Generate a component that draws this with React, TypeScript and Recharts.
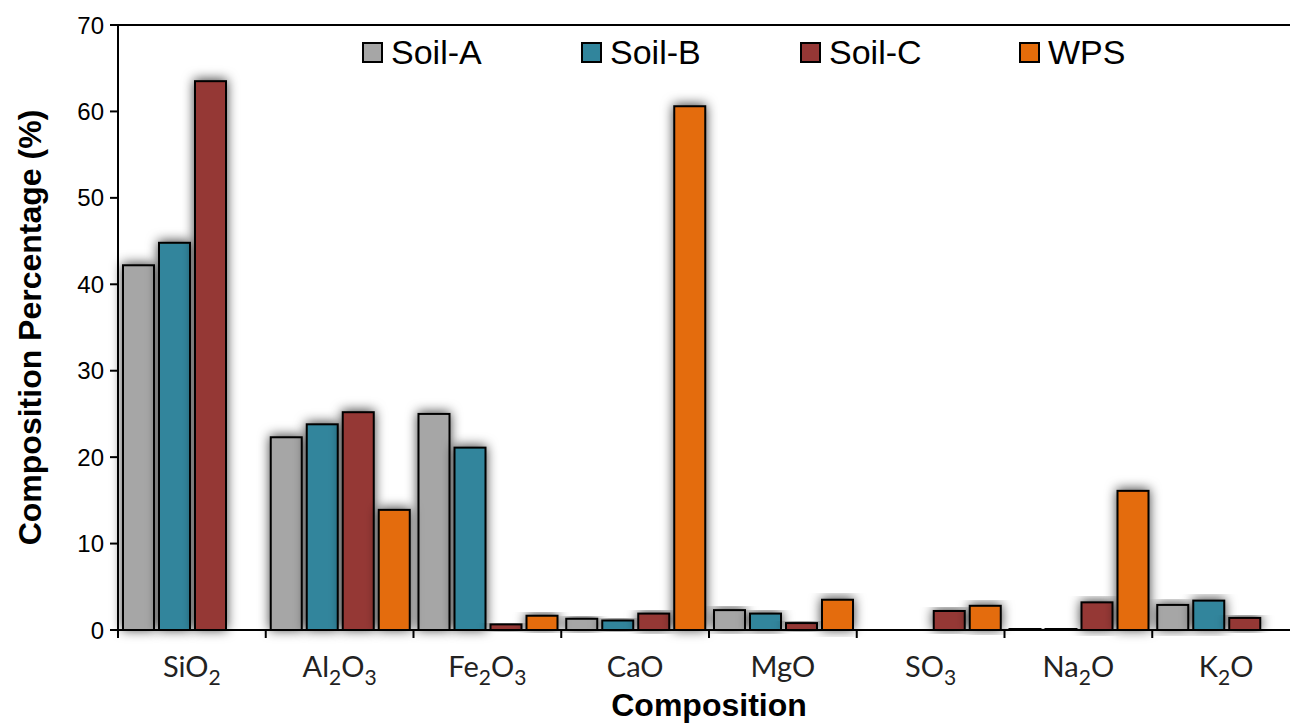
import React from 'react';
import { BarChart, Bar, XAxis, YAxis, ReferenceLine } from 'recharts';

const categories = ['SiO2', 'Al2O3', 'Fe2O3', 'CaO', 'MgO', 'SO3', 'Na2O', 'K2O'];
const soilA = [42.2, 22.3, 25.0, 1.3, 2.3, 0, 0.15, 2.9];
const soilB = [44.8, 23.8, 21.1, 1.1, 1.9, 0, 0.15, 3.4];
const soilC = [63.5, 25.2, 0.65, 1.9, 0.8, 2.2, 3.2, 1.4];
const wps = [0, 13.9, 1.65, 60.6, 3.5, 2.8, 16.1, 0];
const yTicks = [0, 10, 20, 30, 40, 50, 60, 70];

const seriesNames = ['Soil-A', 'Soil-B', 'Soil-C', 'WPS'];
const seriesKeys = ['a', 'b', 'c', 'w'];
const seriesColors = ['#A6A6A6', '#31859C', '#953735', '#E46C0A'];

const data = categories.map((name, i) => ({
  name,
  a: soilA[i],
  b: soilB[i],
  c: soilC[i],
  w: wps[i],
}));

const ShadowBar = (props: any) => {
  const { x, y, width, height, fill, value } = props;
  const v = Array.isArray(value) ? value[1] - value[0] : value;
  if (!v || v <= 0) return null;
  const h = Math.max(height, 0.5);
  return (
    <rect
      x={x}
      y={y + height - h}
      width={width}
      height={h}
      fill={fill}
      stroke="#000"
      strokeWidth={2}
      filter="url(#barShadow)"
    />
  );
};

const CategoryTick = (props: any) => {
  const { x, y, payload } = props;
  const label: string = String(payload.value);
  const parts = label.match(/[A-Za-z]+|\d+/g) || [label];
  const off = payload.offset || 0;
  return (
    <g>
      <line x1={x - off} x2={x - off} y1={y - 8} y2={y} stroke="#000" strokeWidth={2} />
      <text
        x={x}
        y={y + 39}
        textAnchor="middle"
        fontFamily="Lato, 'Open Sans', sans-serif"
        fontSize={29}
        fill="#222"
      >
        {parts.map((p, i) =>
          /^\d+$/.test(p) ? (
            <tspan key={i} fontSize={21} dy={8}>
              {p}
            </tspan>
          ) : (
            <tspan key={i} dy={i > 0 && /^\d+$/.test(parts[i - 1]) ? -8 : 0}>
              {p}
            </tspan>
          )
        )}
      </text>
    </g>
  );
};

const LegendBox = () => (
  <div
    style={{
      position: 'absolute',
      top: 32,
      left: 362,
      display: 'flex',
      fontFamily: "'Liberation Sans', Arial, sans-serif",
    }}
  >
    {seriesNames.map((n, i) => (
      <div key={n} style={{ display: 'flex', alignItems: 'center', width: 219 }}>
        <span
          style={{
            display: 'inline-block',
            width: 17,
            height: 17,
            background: seriesColors[i],
            border: '2px solid #000',
            marginRight: 8,
          }}
        />
        <span style={{ fontSize: 34, color: '#000', lineHeight: '40px' }}>{n}</span>
      </div>
    ))}
  </div>
);

export default function App() {
  return (
    <div
      style={{
        position: 'absolute',
        left: 0,
        top: 0,
        width: 1290,
        height: 725,
        overflow: 'hidden',
        background: '#fff',
      }}
    >
      <BarChart
        width={1310}
        height={725}
        data={data}
        margin={{ top: 25, right: 10, bottom: 0, left: 0 }}
        barCategoryGap={5}
        barGap={5}
      >
        <defs>
          <filter id="barShadow" x="-50%" y="-20%" width="200%" height="140%">
            <feDropShadow dx={0} dy={-1} stdDeviation={6} floodColor="#000" floodOpacity={0.75} />
          </filter>
        </defs>
        <XAxis
          dataKey="name"
          height={95}
          tickLine={false}
          tickSize={6}
          tickMargin={2}
          axisLine={{ stroke: '#000', strokeWidth: 2 }}
          tick={<CategoryTick />}
          interval={0}
          label={(p: any) => {
            const vb = p.viewBox;
            return (
              <text
                x={vb.x + vb.width / 2}
                y={vb.y + 86}
                textAnchor="middle"
                fontFamily="'Liberation Sans', Arial, sans-serif"
                fontWeight="bold"
                fontSize={32}
                fill="#000"
              >
                Composition
              </text>
            );
          }}
        />
        <YAxis
          width={118}
          domain={[0, 70]}
          ticks={yTicks}
          interval={0}
          tickSize={8}
          tickMargin={6}
          axisLine={{ stroke: '#000', strokeWidth: 2 }}
          tickLine={{ stroke: '#000', strokeWidth: 2 }}
          tick={{ fill: '#000', fontSize: 24, fontFamily: "'Liberation Sans', Arial, sans-serif" }}
          label={(p: any) => {
            const vb = p.viewBox;
            const cx = 41;
            const cy = vb.y + vb.height / 2;
            return (
              <text
                x={cx}
                y={cy}
                transform={`rotate(-90, ${cx}, ${cy})`}
                textAnchor="middle"
                fontFamily="'Liberation Sans', Arial, sans-serif"
                fontWeight="bold"
                fontSize={32}
                fill="#000"
              >
                Composition Percentage (%)
              </text>
            );
          }}
        />
        <ReferenceLine y={70} stroke="#000" strokeWidth={2} />
        {seriesKeys.map((k, i) => (
          <Bar
            key={k}
            dataKey={k}
            name={seriesNames[i]}
            fill={seriesColors[i]}
            shape={<ShadowBar />}
            isAnimationActive={false}
          />
        ))}
      </BarChart>
      <LegendBox />
    </div>
  );
}
